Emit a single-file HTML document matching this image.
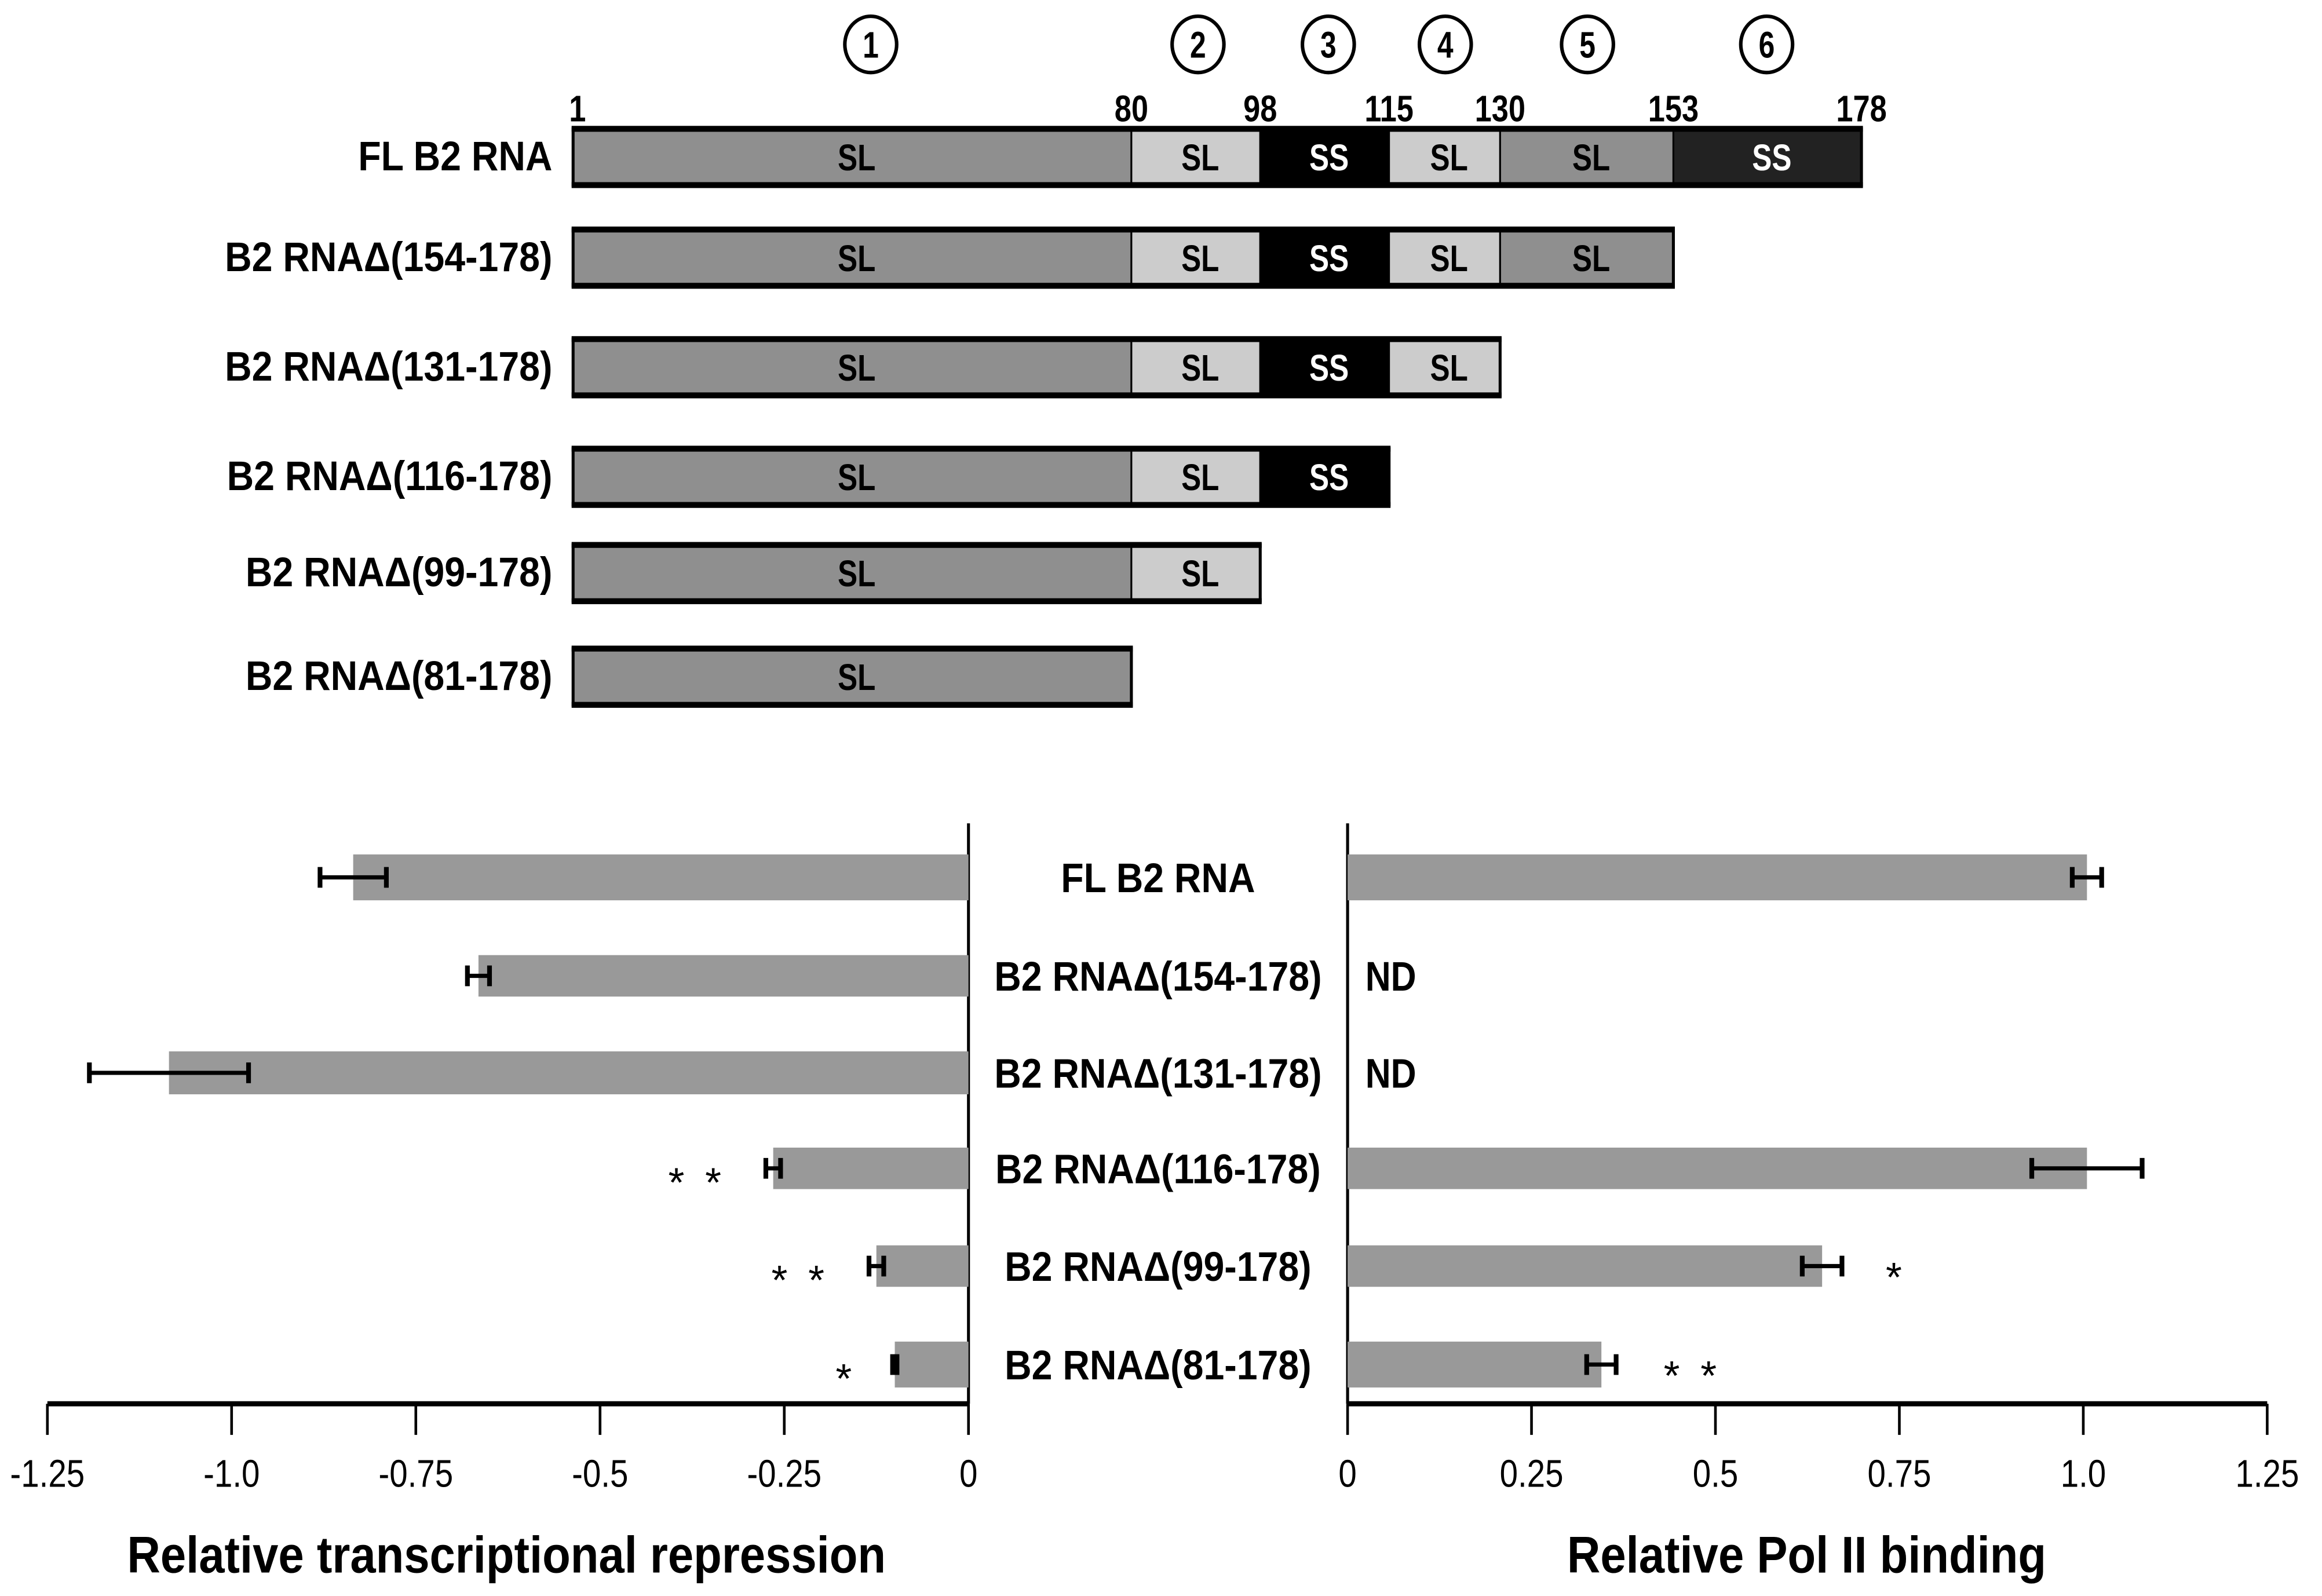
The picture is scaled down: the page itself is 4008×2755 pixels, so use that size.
<!DOCTYPE html>
<html><head><meta charset="utf-8"><style>
html,body{margin:0;padding:0;background:#fff;}
svg{display:block;font-family:"Liberation Sans",sans-serif;font-weight:bold;}
</style></head><body>
<svg id="fig" width="4008" height="2755" viewBox="0 0 1568 1077.8" preserveAspectRatio="none" xmlns="http://www.w3.org/2000/svg">
<g id="topgrp"></g>
<g id="botgrp"></g>
</svg>
<script>
const constructs = ["FL B2 RNA","B2 RNAΔ(154-178)","B2 RNAΔ(131-178)","B2 RNAΔ(116-178)","B2 RNAΔ(99-178)","B2 RNAΔ(81-178)"];
const constructEnds = [178,153,130,115,98,80];
const segStarts = [1,80,98,115,130,153];
const segEnds = [80,98,115,130,153,178];
const segTypes = ["SL","SL","SS","SL","SL","SS"];
const boundaryLabels = ["1","80","98","115","130","153","178"];
const boundaryVals = [1,80,98,115,130,153,178];
const repression = [-0.835,-0.665,-1.085,-0.265,-0.125,-0.1];
const repressionErr = [0.045,0.015,0.108,0.01,0.01,0.003];
const repressionStars = ["","","","* *","* *","*"];
const polII = [1.005,null,null,1.005,0.645,0.345];
const polIIErr = [0.02,0,0,0.075,0.027,0.02];
const polIIStars = ["","","","","*","* *"];
const leftTicks = [-1.25,-1.0,-0.75,-0.5,-0.25,0];
const leftTickLabels = ["-1.25","-1.0","-0.75","-0.5","-0.25","0"];
const rightTicks = [0,0.25,0.5,0.75,1.0,1.25];
const rightTickLabels = ["0","0.25","0.5","0.75","1.0","1.25"];

const NS="http://www.w3.org/2000/svg";
function mk(parent,tag,attrs,text){const e=document.createElementNS(NS,tag);for(const k in attrs)e.setAttribute(k,attrs[k]);if(text!==undefined)e.textContent=text;parent.appendChild(e);return e;}
function condense(t,f){const w=t.getComputedTextLength();t.setAttribute('textLength',w*f);t.setAttribute('lengthAdjust','spacingAndGlyphs');}

const topG=document.getElementById('topgrp');
const anchorPx=[387,764,851,938,1013,1130,1257];
function nx(v){for(let i=0;i<boundaryVals.length-1;i++){if(v<=boundaryVals[i+1]){const a=boundaryVals[i],b=boundaryVals[i+1];return anchorPx[i]+(v-a)/(b-a)*(anchorPx[i+1]-anchorPx[i]);}}return anchorPx[anchorPx.length-1];}
const rowY=[87,155,229,303,368,438], rowH=38;
const fills={SL:["#8f8f8f","#cccccc","","#cccccc","#8f8f8f",""],SS:["","","#000","","","#222"]};
const circX=[588,809,897,976,1072,1193];
circX.forEach((x,i)=>{
  const c=mk(topG,'ellipse',{cx:x,cy:30,rx:17.5,ry:19,fill:'#fff',stroke:'#000','stroke-width':2.4});
  
  
  const t=mk(topG,'text',{x:x,y:39,'text-anchor':'middle','font-size':25},String(i+1));
  
  
  condense(t,0.78);
});
boundaryVals.forEach((v,i)=>{
  const t=mk(topG,'text',{x:nx(v)+(i==0?3:0),y:82,'text-anchor':'middle','font-size':25},boundaryLabels[i]);
  
  
  condense(t,0.82);
});
constructs.forEach((name,r)=>{
  const y=rowY[r];
  const lab=mk(topG,'text',{x:373,y:y+rowH/2+9,'text-anchor':'end','font-size':28},name);
  
  
  condense(lab,0.9);
  for(let s=0;s<segStarts.length;s++){
    if(segStarts[s]>=constructEnds[r])break;
    const x1=nx(segStarts[s]),x2=nx(Math.min(segEnds[s],constructEnds[r]));
    const type=segTypes[s];
    const f=(fills[type][s])|| (type=="SS"?"#000":"#8f8f8f");
    const rc=mk(topG,'rect',{x:x1,y:y,width:x2-x1,height:rowH,fill:f,stroke:'#000','stroke-width':1.2});
    
    
    const t=mk(topG,'text',{x:(x1+x2)/2+3,y:y+rowH/2+9,'text-anchor':'middle','font-size':25,fill:type=="SS"?"#fff":"#000"},type);
    
    
    condense(t,0.8);
  }
  const x0=nx(1),xe=nx(constructEnds[r]);
  const ol=mk(topG,'rect',{x:x0,y:y,width:xe-x0,height:rowH,fill:'none',stroke:'#000','stroke-width':2});
  
  
  const tb=mk(topG,'rect',{x:x0-1,y:y-2,width:xe-x0+2,height:4,fill:'#000'});
  
  
  const bb=mk(topG,'rect',{x:x0-1,y:y+rowH-2,width:xe-x0+2,height:4,fill:'#000'});
  
  
});

const botG=document.getElementById('botgrp');
const lx=v=>654+v*(654-32)/1.25;
const rx=v=>910+v*(1531-910)/1.25;
const barY=[577,645,710,775,841,906], barH=[31,28,29,28,28,31];
const axisY=948;
function drawLine(p,x1,y1,x2,y2,w,name){const l=mk(p,'line',{x1:x1,y1:y1,x2:x2,y2:y2,stroke:'#000','stroke-width':w});return l;}
drawLine(botG,654,556,654,axisY,2,'left-y-axis');
drawLine(botG,910,556,910,axisY,2,'right-y-axis');
drawLine(botG,32,axisY,654,axisY,3.5,'left-x-axis');
drawLine(botG,910,axisY,1531,axisY,3.5,'right-x-axis');
leftTicks.forEach((v,i)=>{drawLine(botG,lx(v),axisY,lx(v),969,1.8,'left-tick');
  const t=mk(botG,'text',{x:lx(v),y:1004,'text-anchor':'middle','font-size':26,'font-weight':'normal'},leftTickLabels[i]);
  condense(t,0.85);});
rightTicks.forEach((v,i)=>{drawLine(botG,rx(v),axisY,rx(v),969,1.8,'right-tick');
  const t=mk(botG,'text',{x:rx(v),y:1004,'text-anchor':'middle','font-size':26,'font-weight':'normal'},rightTickLabels[i]);
  condense(t,0.85);});
constructs.forEach((name,i)=>{
  const y=barY[i],h=barH[i],cy=y+h/2;
  const lab=mk(botG,'text',{x:782,y:cy+10,'text-anchor':'middle','font-size':28},name);
  
  condense(lab,0.9);
  const v=repression[i];
  const b=mk(botG,'rect',{x:lx(v),y:y,width:lx(0)-lx(v),height:h,fill:'#999'});
  
  const e1=lx(v-repressionErr[i]),e2=lx(v+repressionErr[i]);
  drawLine(botG,e1,cy,e2,cy,2.8,'repression-error-bar');
  drawLine(botG,e1,cy-7,e1,cy+7,3.2,'repression-error-cap');
  drawLine(botG,e2,cy-7,e2,cy+7,3.2,'repression-error-cap');
  if(repressionStars[i]){const t=mk(botG,'text',{x:e1-(repressionStars[i].length>1?48:33),y:cy+19,'text-anchor':'middle','font-size':28,'font-weight':'normal'},repressionStars[i].replace(' ','\u2002'));
    }
  const p=polII[i];
  if(p===null){const t=mk(botG,'text',{x:922,y:cy+10,'font-size':28},'ND');condense(t,0.85);}
  else{
    const b2=mk(botG,'rect',{x:rx(0),y:y,width:rx(p)-rx(0),height:h,fill:'#999'});
    
    const f1=rx(p-polIIErr[i]),f2=rx(p+polIIErr[i]);
    drawLine(botG,f1,cy,f2,cy,2.8,'pol-ii-error-bar');
    drawLine(botG,f1,cy-7,f1,cy+7,3.2,'pol-ii-error-cap');
    drawLine(botG,f2,cy-7,f2,cy+7,3.2,'pol-ii-error-cap');
    if(polIIStars[i]){const t=mk(botG,'text',{x:f2+(polIIStars[i].length>1?50:35),y:cy+17,'text-anchor':'middle','font-size':28,'font-weight':'normal'},polIIStars[i].replace(' ','\u2002'));
      }
  }
});
const t1=mk(botG,'text',{x:342,y:1062,'text-anchor':'middle','font-size':35},'Relative transcriptional repression');

condense(t1,0.89);
const t2=mk(botG,'text',{x:1220,y:1062,'text-anchor':'middle','font-size':35},'Relative Pol II binding');

condense(t2,0.89);
</script>
</body></html>
